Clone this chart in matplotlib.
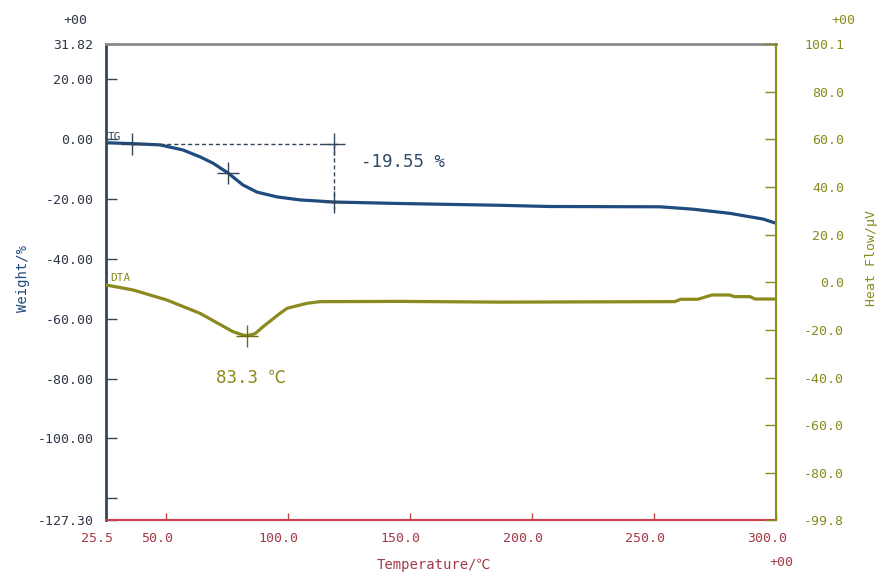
import matplotlib.pyplot as plt
from matplotlib.transforms import ScaledTranslation

# TG curve (weight %, left axis)
temp_tg = [25.5, 36.6, 47.6, 57.0, 64.0, 69.3, 75.5, 81.6, 87.4, 95.6, 105.0,
           118.9, 146.0, 187.0, 207.0, 252.5, 266.0, 281.2, 294.7, 300.0]
weight_tg = [-1.2, -1.5, -1.9, -3.6, -5.9, -8.0, -11.3, -15.3, -17.7, -19.3, -20.3,
             -21.0, -21.5, -22.1, -22.5, -22.6, -23.4, -24.8, -26.7, -28.1]

# DTA curve (heat flow uV, right axis)
temp_dta = [25.5, 36.6, 50.4, 64.0, 77.5, 81.6, 83.3, 86.5, 90.0, 96.8, 99.7,
            107.8, 113.2, 146.0, 187.0, 258.5, 261.0, 268.0, 273.8, 281.0, 283.0,
            289.3, 291.5, 300.0]
heat_dta = [-1.1, -3.2, -7.4, -13.0, -20.7, -22.1, -22.4, -21.6, -18.5, -13.0, -10.9,
            -8.8, -8.1, -8.0, -8.3, -8.1, -7.1, -7.1, -5.3, -5.3, -6.0,
            -6.0, -7.0, -7.0]

# analysis marks
tg_mark_t = [36.0, 75.5, 118.9, 118.9]
tg_mark_w = [-1.5, -11.3, -1.5, -21.0]
mass_loss = -19.55
dta_peak_t = 83.3
dta_peak_v = -22.4

xticks = [25.5, 50, 100, 150, 200, 250, 300]
xlabels = ['25.5', '50.0', '100.0', '150.0', '200.0', '250.0', '300.0']
yticks_l = [31.82, 20, 0, -20, -40, -60, -80, -100, -120, -127.30]
ylabels_l = ['31.82', '20.00', '0.00', '-20.00', '-40.00', '-60.00', '-80.00',
             '-100.00', '', '-127.30']
yticks_r = [100.1, 80, 60, 40, 20, 0, -20, -40, -60, -80, -99.8]
ylabels_r = ['100.1', '80.0', '60.0', '40.0', '20.0', '0.0', '-20.0', '-40.0',
             '-60.0', '-80.0', '-99.8']

navy = '#1f4b7e'
dark = '#34475a'
olive = '#8a8a1e'
red = '#c8404a'
redtxt = '#a33a48'
mono = ['DejaVu Sans Mono', 'Noto Sans CJK JP']
plt.rcParams['font.family'] = mono

fig = plt.figure(figsize=(8.81, 5.76), dpi=100)
ax = fig.add_axes([106 / 881, 56 / 576, 670 / 881, 476 / 576])
ax2 = ax.twinx()

ax.set_xlim(25.5, 300.0)
ax.set_ylim(-127.30, 31.82)
ax2.set_ylim(-99.8, 100.1)

ax.plot(temp_tg, weight_tg, color=navy, lw=2.3)
ax.plot(tg_mark_t, tg_mark_w, ls='none', marker='+', ms=16, mew=1, color=dark)
ax.plot([tg_mark_t[0], tg_mark_t[2] + 2.5], [tg_mark_w[2], tg_mark_w[2]],
        ls=(0, (3, 2)), lw=1, color=dark)
ax.plot([tg_mark_t[2], tg_mark_t[2]], [tg_mark_w[2], tg_mark_w[3] - 2.5],
        ls=(0, (3, 2)), lw=1, color=dark)
ax.text(147, -7.6, f'{mass_loss:.2f} %', ha='center', va='center',
        fontsize=12.5, color='#2d4a6a')
ax.text(26.3, 0.7, 'TG', ha='left', va='center', fontsize=8, color=dark)

ax2.plot(temp_dta, heat_dta, color=olive, lw=2.3)
ax2.plot([dta_peak_t], [dta_peak_v], ls='none', marker='+', ms=16, mew=1, color='#6b6b18')
ax2.text(84.9, -40.2, f'{dta_peak_t:.1f} ℃', ha='center', va='center',
         fontsize=12.5, color=olive)
ax2.text(27.1, 1.8, 'DTA', ha='left', va='center', fontsize=8, color=olive)

ax.set_xticks(xticks, xlabels)
ax.tick_params(axis='x', direction='in', length=5, width=1, color=red,
               labelcolor=redtxt, labelsize=9.5, pad=9)
ax.set_yticks(yticks_l, ylabels_l)
ax.tick_params(axis='y', direction='in', length=8, width=1, color=dark,
               labelcolor='#303848', labelsize=9.5, pad=9)
ax2.set_yticks(yticks_r, ylabels_r)
ax2.tick_params(axis='y', direction='in', length=8, width=1, color=olive,
                labelcolor=olive, labelsize=9.5, pad=49)
for lbl in ax2.get_yticklabels():
    lbl.set_horizontalalignment('right')
shift = ScaledTranslation(-0.09, 0, fig.dpi_scale_trans)
for lbl in ax.get_xticklabels():
    lbl.set_transform(lbl.get_transform() + shift)

ax.spines['left'].set_color(dark)
ax.spines['left'].set_linewidth(2)
ax.spines['top'].set_color('#8a8a8a')
ax.spines['top'].set_linewidth(2)
ax.spines['bottom'].set_color(red)
ax.spines['bottom'].set_linewidth(1.5)
ax.spines['right'].set_visible(False)
for s in ['left', 'top', 'bottom']:
    ax2.spines[s].set_visible(False)
ax2.spines['right'].set_color(olive)
ax2.spines['right'].set_linewidth(1.5)

fig.text(23 / 881, 1 - 278 / 576, 'Weight/%', rotation=90, ha='center', va='center',
         fontsize=10, color=navy)
fig.text(872 / 881, 1 - 258 / 576, 'Heat Flow/µV', rotation=90, ha='center', va='center',
         fontsize=9.5, color=olive)
fig.text(434 / 881, 1 - 565 / 576, 'Temperature/℃', ha='center', va='center',
         fontsize=10, color=redtxt)
fig.text(87 / 881, 1 - 20 / 576, '+00', ha='right', va='center', fontsize=9.5, color='#303848')
fig.text(855 / 881, 1 - 20 / 576, '+00', ha='right', va='center', fontsize=9.5, color=olive)
fig.text(793 / 881, 1 - 562 / 576, '+00', ha='right', va='center', fontsize=9.5, color=redtxt)

fig.savefig('out.png', dpi=100)
